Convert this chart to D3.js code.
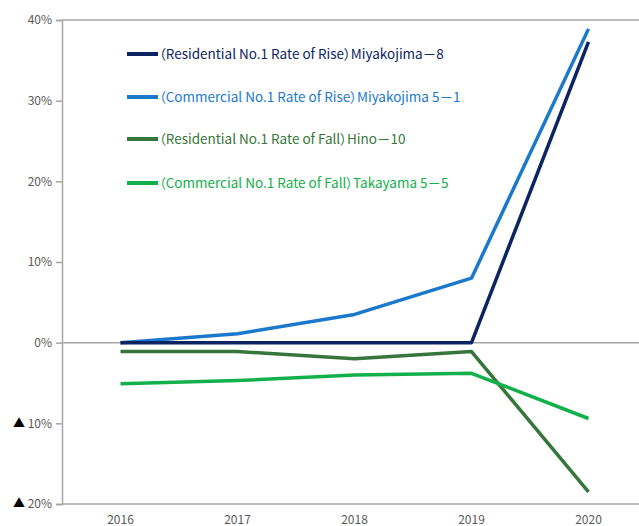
<!DOCTYPE html>
<html>
<head>
<meta charset="utf-8">
<script src="https://cdn.jsdelivr.net/npm/d3@7"></script>
<style>
  html, body { margin: 0; padding: 0; background: #fff; }
  svg { display: block; }
  text { font-family: "Noto Sans CJK JP", "Noto Sans", sans-serif; font-feature-settings: "palt"; }
</style>
</head>
<body>
<svg id="chart" width="639" height="526"></svg>
<script>
// Years on the horizontal axis
const years = ["2016", "2017", "2018", "2019", "2020"];

// Rate of change (%) per series
const resRise = [0, 0, 0, 0, 37.3];
const comRise = [0, 1.1, 3.5, 8.0, 38.9];
const resFall = [-1.1, -1.1, -2.0, -1.1, -18.5];
const comFall = [-5.1, -4.7, -4.0, -3.8, -9.4];

const seriesNames = [
  "（Residential No.1 Rate of Rise）Miyakojima－8",
  "（Commercial No.1 Rate of Rise）Miyakojima 5－1",
  "（Residential No.1 Rate of Fall）Hino－10",
  "（Commercial No.1 Rate of Fall）Takayama 5－5"
];
const seriesColors = ["#0d2463", "#1b79cc", "#37763a", "#12b04a"];
const seriesValues = [resRise, comRise, resFall, comFall];

// Y ticks
const yTicks = [40, 30, 20, 10, 0, -10, -20];

const svg = d3.select("#chart");
const plotLeft = 62, plotRight = 647, plotTop = 20, plotBottom = 504;

const x = d3.scaleBand().domain(years).range([plotLeft, plotRight]);
const y = d3.scaleLinear().domain([-20, 40]).range([plotBottom, plotTop]);
const cx = d => x(d) + x.bandwidth() / 2;

const axisColor = "#a6a6a6";

// Horizontal frame lines at top, zero and bottom
[40, 0, -20].forEach(v => {
  svg.append("line")
    .attr("x1", plotLeft).attr("x2", 639)
    .attr("y1", y(v)).attr("y2", y(v))
    .attr("stroke", axisColor).attr("stroke-width", 1.5);
});

// Left axis
const yAxis = d3.axisLeft(y).tickValues(yTicks).tickSize(6).tickFormat(() => "");
const ya = svg.append("g").attr("transform", `translate(${plotLeft},0)`).call(yAxis);
ya.select(".domain").attr("stroke", axisColor).attr("stroke-width", 1.5);
ya.selectAll(".tick line").attr("stroke", axisColor).attr("stroke-width", 1.5);

// Y tick labels; negatives are shown with a ▲ marker
yTicks.forEach(v => {
  const t = svg.append("text")
    .attr("x", 52).attr("y", y(v)).attr("dy", "0.35em")
    .attr("text-anchor", "end")
    .attr("font-size", 12)
    .attr("fill", "#595959");
  if (v < 0) {
    t.append("tspan").attr("fill", "#000").text("▲ ");
    t.append("tspan").text(Math.abs(v) + "%");
  } else {
    t.text(v + "%");
  }
});

// X tick labels
years.forEach(yr => {
  svg.append("text")
    .attr("x", cx(yr)).attr("y", 520).attr("dy", "0.35em")
    .attr("text-anchor", "middle")
    .attr("font-size", 12)
    .attr("fill", "#595959")
    .text(yr);
});

// Series lines
const line = d3.line().x((d, i) => cx(years[i])).y(d => y(d));
// draw greens first, then blues on top
[2, 3, 1, 0].forEach(k => {
  svg.append("path")
    .attr("d", line(seriesValues[k]))
    .attr("fill", "none")
    .attr("stroke", seriesColors[k])
    .attr("stroke-width", 3.5)
    .attr("stroke-linejoin", "round");
});

// Legend
const legendY = [54, 97, 139, 183];
seriesNames.forEach((name, i) => {
  svg.append("line")
    .attr("x1", 127).attr("x2", 158)
    .attr("y1", legendY[i]).attr("y2", legendY[i])
    .attr("stroke", seriesColors[i]).attr("stroke-width", 4);
  svg.append("text")
    .attr("x", 159).attr("y", legendY[i]).attr("dy", "0.35em")
    .attr("font-size", 13.5)
    .attr("fill", seriesColors[i])
    .text(name);
});
</script>
</body>
</html>
